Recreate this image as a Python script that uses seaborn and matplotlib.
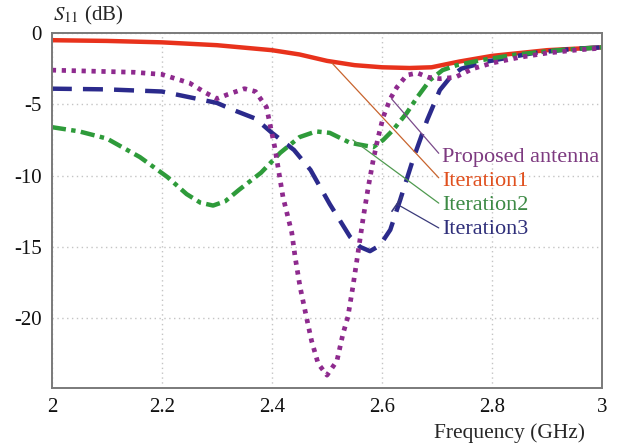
import matplotlib
matplotlib.use("Agg")
import matplotlib.pyplot as plt
import seaborn as sns
import pandas as pd

# values (frequency in GHz, S11 in dB)
freq_it1 = [2.0, 2.1, 2.2, 2.3, 2.4, 2.45, 2.5, 2.55, 2.6, 2.65, 2.69, 2.74, 2.8, 2.85, 2.9, 2.95, 3.0]
s11_it1 = [-0.5, -0.55, -0.65, -0.85, -1.2, -1.5, -1.95, -2.25, -2.4, -2.45, -2.4, -2.0, -1.6, -1.4, -1.2, -1.1, -1.0]

freq_prop = [2.0, 2.05, 2.1, 2.15, 2.2, 2.25, 2.28, 2.3, 2.32, 2.35, 2.37, 2.39, 2.405, 2.42, 2.436,
             2.442, 2.451, 2.463, 2.472, 2.484, 2.5, 2.518, 2.529, 2.538, 2.547, 2.556, 2.566, 2.575,
             2.584, 2.593, 2.602, 2.615, 2.627, 2.645, 2.664, 2.684, 2.705, 2.733, 2.765, 2.8, 2.85,
             2.9, 2.95, 3.0]
s11_prop = [-2.6, -2.65, -2.7, -2.75, -2.9, -3.5, -4.2, -4.6, -4.3, -3.9, -4.1, -5.2, -8.0, -11.5, -14.0,
            -15.7, -17.8, -20.0, -21.6, -23.2, -24.0, -23.0, -21.1, -19.9, -17.8, -15.5, -12.9, -10.8,
            -8.9, -7.3, -5.9, -4.6, -3.8, -2.95, -2.8, -3.1, -3.2, -3.1, -2.5, -2.1, -1.7,
            -1.4, -1.2, -1.05]

freq_it2 = [2.0, 2.05, 2.1, 2.16, 2.21, 2.245, 2.27, 2.293, 2.315, 2.34, 2.38, 2.415, 2.45, 2.48,
            2.505, 2.542, 2.584, 2.602, 2.62, 2.645, 2.664, 2.687, 2.71, 2.736, 2.78, 2.845, 2.92, 3.0]
s11_it2 = [-6.6, -6.9, -7.4, -8.7, -10.1, -11.3, -11.9, -12.1, -11.8, -11.0, -9.8, -8.4, -7.3, -6.9,
           -7.0, -7.7, -8.0, -7.5, -6.8, -5.6, -4.5, -3.3, -2.6, -2.25, -1.9, -1.5, -1.2, -1.0]

freq_it3 = [2.0, 2.1, 2.2, 2.25, 2.3, 2.33, 2.37, 2.4, 2.44, 2.47, 2.505, 2.542, 2.56, 2.578, 2.596,
            2.615, 2.633, 2.656, 2.682, 2.705, 2.724, 2.744, 2.79, 2.875, 2.95, 3.0]
s11_it3 = [-3.9, -3.95, -4.1, -4.5, -4.9, -5.4, -6.0, -7.0, -8.2, -9.6, -12.0, -14.3, -15.0, -15.3, -14.9,
           -13.8, -11.7, -8.9, -6.1, -4.0, -3.1, -2.5, -2.0, -1.4, -1.1, -1.0]

series_names = ["Proposed antenna", "Iteration1", "Iteration2", "Iteration3"]
x_ticks = [2.0, 2.2, 2.4, 2.6, 2.8, 3.0]
x_ticklabels = ["2", "2.2", "2.4", "2.6", "2.8", "3"]
y_ticks = [0, -5, -10, -15, -20]

sns.set_style("white")
plt.rcParams["font.family"] = ["Liberation Serif", "DejaVu Serif"]
plt.rcParams["mathtext.fontset"] = "stix"

fig = plt.figure(figsize=(6.17, 4.47), dpi=100)
ax = fig.add_axes([0.084, 0.132, 0.892, 0.794])

ax.grid(True, color="#c4c4c4", linestyle=(0, (1, 2.5)), linewidth=1.0)
ax.set_axisbelow(True)

sns.lineplot(x=freq_it1, y=s11_it1, ax=ax, color="#e8321c", linewidth=3.2, errorbar=None)
sns.lineplot(x=freq_it3, y=s11_it3, ax=ax, color="#2b2a8c", linewidth=3.2, errorbar=None,
             linestyle=(0, (4.5, 2.5)))
sns.lineplot(x=freq_it2, y=s11_it2, ax=ax, color="#2e9b3a", linewidth=3.2, errorbar=None,
             linestyle=(0, (3.2, 1.2, 1.0, 1.2)))
sns.lineplot(x=freq_prop, y=s11_prop, ax=ax, color="#8e2a8e", linewidth=3.4, errorbar=None,
             linestyle=(0, (0.9, 1.2)))

ax.set_xlim(2.0, 3.0)
ax.set_ylim(-24.9, 0)
ax.set_xticks(x_ticks)
ax.set_xticklabels(x_ticklabels)
ax.set_yticks(y_ticks)
ax.set_yticklabels([str(v) for v in y_ticks])
ax.tick_params(axis="both", length=0, labelsize=15, pad=7, colors="#111111")
ax.set_xlabel("")
ax.set_ylabel("")
for s in ax.spines.values():
    s.set_color("#7a7a7a")
    s.set_linewidth(1.4)

# labels with leader lines
label_colors = ["#7d3a80", "#e0501e", "#3d8a45", "#2f2f7a"]
leader_colors = ["#7a4a8a", "#c8642e", "#4f9a4f", "#3a3a7a"]
label_y = [-8.7, -10.4, -12.1, -13.8]
targets = [(2.617, -4.6), (2.509, -2.1), (2.547, -7.5), (2.627, -12.0)]
for name, lc, ln, ly, (tx, ty) in zip(series_names, label_colors, leader_colors, label_y, targets):
    ax.annotate(name, xy=(tx, ty), xytext=(2.709, ly), fontsize=16, color=lc,
                va="center", ha="left",
                arrowprops=dict(arrowstyle="-", color=ln, lw=0.9,
                                shrinkA=0, shrinkB=0, relpos=(0, 0.5)))
# small bar at the end of the Iteration3 leader
ax.annotate("", xy=(2.618, -12.5), xytext=(2.636, -11.5),
            arrowprops=dict(arrowstyle="-", color="#3a3a7a", lw=1.2, shrinkA=0, shrinkB=0))

fig.text(0.086, 0.966, r"$S_{11}$ (dB)", fontsize=15, ha="left", va="center")
fig.text(0.825, 0.031, "Frequency (GHz)", fontsize=15.5, ha="center", va="center")

fig.savefig("out.png", dpi=100)
